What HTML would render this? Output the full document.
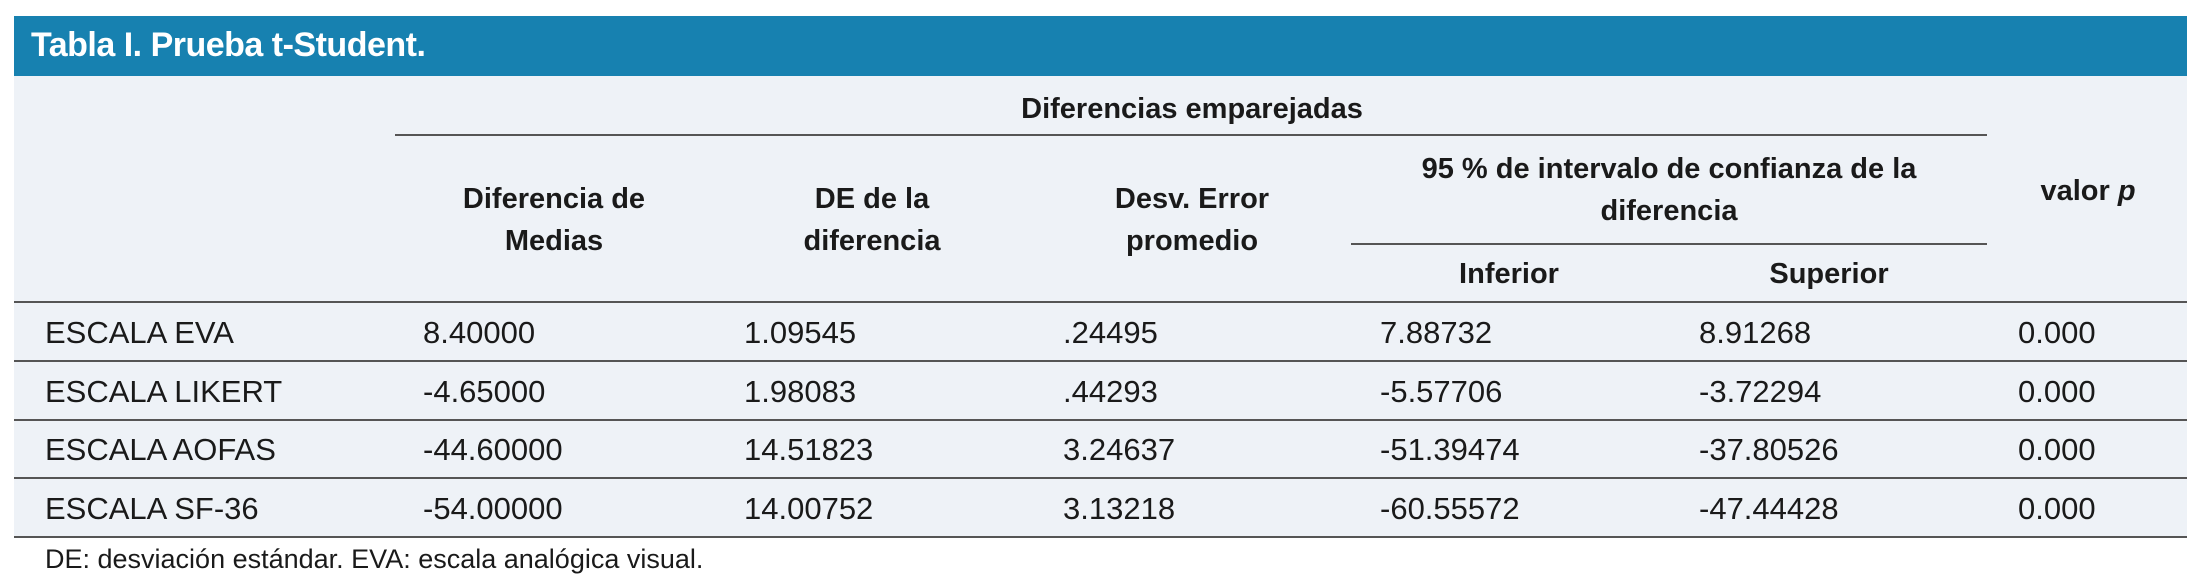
<!DOCTYPE html>
<html><head><meta charset="utf-8"><style>
body{margin:0;width:2207px;height:579px;background:#fff;position:relative;overflow:hidden;font-family:"Liberation Sans",sans-serif;color:#1a1a1a}
.a{position:absolute;white-space:nowrap}
.bar{left:14px;top:16px;width:2173px;height:60px;background:#1781b0}
.body{left:14px;top:76px;width:2173px;height:461px;background:#eef2f7}
.t{left:31px;top:26px;font-size:34px;font-weight:bold;color:#fff;letter-spacing:-0.5px}
.h{font-size:29px;font-weight:bold;text-align:center;line-height:42px;transform:translateX(-50%)}
.ln{height:2px;background:#555}
.d{font-size:31px;line-height:36px}
.f{font-size:27px;left:45px;top:544px}
</style></head><body>
<div class="a bar"></div>
<div class="a body"></div>
<div class="a t">Tabla I. Prueba t-Student.</div>
<div class="a h" style="left:1192px;top:88px">Diferencias emparejadas</div>
<div class="a ln" style="left:395px;top:134px;width:1592px"></div>
<div class="a h" style="left:554px;top:178px">Diferencia de<br>Medias</div>
<div class="a h" style="left:872px;top:178px">DE de la<br>diferencia</div>
<div class="a h" style="left:1192px;top:178px">Desv. Error<br>promedio</div>
<div class="a h" style="left:1669px;top:148px">95 % de intervalo de confianza de la<br>diferencia</div>
<div class="a ln" style="left:1351px;top:243px;width:636px"></div>
<div class="a h" style="left:1509px;top:253px">Inferior</div>
<div class="a h" style="left:1829px;top:253px">Superior</div>
<div class="a h" style="left:2088px;top:170px">valor <i>p</i></div>
<div class="a ln" style="left:14px;top:301px;width:2173px"></div>
<div class="a ln" style="left:14px;top:360px;width:2173px"></div>
<div class="a ln" style="left:14px;top:419px;width:2173px"></div>
<div class="a ln" style="left:14px;top:477px;width:2173px"></div>
<div class="a ln" style="left:14px;top:536px;width:2173px"></div>

<div class="a d" style="left:45px;top:315px">ESCALA EVA</div>
<div class="a d" style="left:423px;top:315px">8.40000</div>
<div class="a d" style="left:744px;top:315px">1.09545</div>
<div class="a d" style="left:1063px;top:315px">.24495</div>
<div class="a d" style="left:1380px;top:315px">7.88732</div>
<div class="a d" style="left:1699px;top:315px">8.91268</div>
<div class="a d" style="left:2018px;top:315px">0.000</div>

<div class="a d" style="left:45px;top:374px">ESCALA LIKERT</div>
<div class="a d" style="left:423px;top:374px">-4.65000</div>
<div class="a d" style="left:744px;top:374px">1.98083</div>
<div class="a d" style="left:1063px;top:374px">.44293</div>
<div class="a d" style="left:1380px;top:374px">-5.57706</div>
<div class="a d" style="left:1699px;top:374px">-3.72294</div>
<div class="a d" style="left:2018px;top:374px">0.000</div>

<div class="a d" style="left:45px;top:432px">ESCALA AOFAS</div>
<div class="a d" style="left:423px;top:432px">-44.60000</div>
<div class="a d" style="left:744px;top:432px">14.51823</div>
<div class="a d" style="left:1063px;top:432px">3.24637</div>
<div class="a d" style="left:1380px;top:432px">-51.39474</div>
<div class="a d" style="left:1699px;top:432px">-37.80526</div>
<div class="a d" style="left:2018px;top:432px">0.000</div>

<div class="a d" style="left:45px;top:491px">ESCALA SF-36</div>
<div class="a d" style="left:423px;top:491px">-54.00000</div>
<div class="a d" style="left:744px;top:491px">14.00752</div>
<div class="a d" style="left:1063px;top:491px">3.13218</div>
<div class="a d" style="left:1380px;top:491px">-60.55572</div>
<div class="a d" style="left:1699px;top:491px">-47.44428</div>
<div class="a d" style="left:2018px;top:491px">0.000</div>

<div class="a f">DE: desviación estándar. EVA: escala analógica visual.</div>
</body></html>
